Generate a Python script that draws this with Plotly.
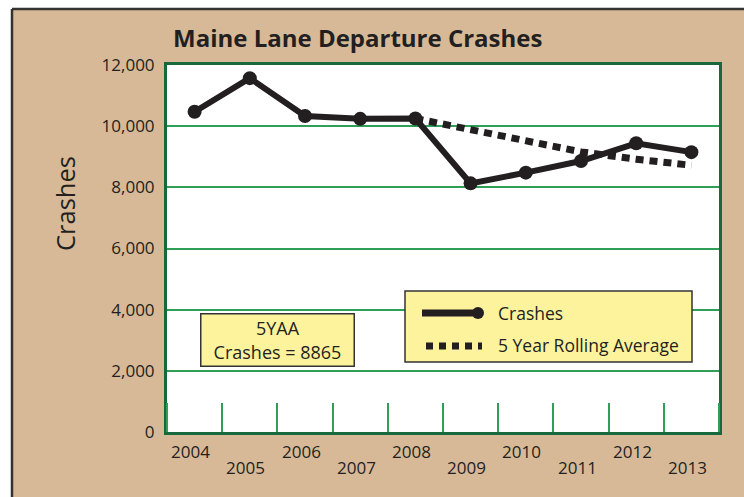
import plotly.graph_objects as go

# ---- data ----
years = [2004, 2005, 2006, 2007, 2008, 2009, 2010, 2011, 2012, 2013]
crashes = [10470, 11570, 10330, 10240, 10250, 8130, 8480, 8860, 9440, 9150]
avg_years = [2008, 2009, 2010, 2011, 2012, 2013]
rolling_avg = [10250, 9880, 9520, 9160, 8920, 8720]
y_ticks = [0, 2000, 4000, 6000, 8000, 10000, 12000]
title_text = "Maine Lane Departure Crashes"
y_title = "Crashes"
box_text = "5YAA<br>Crashes = 8865"
legend_names = ["Crashes", "5 Year Rolling Average"]

# ---- layout constants ----
W, H = 744, 497
L, R, T, B = 167, 719, 65, 432
TAN = "#d7b998"
INK = "#231f20"
GRID = "#2f9e57"
FRAME = "#17683a"
YELLOW = "#fdf39c"
FONT = "Open Sans"


def px(x):
    return (x - L) / (R - L)


def py(y):
    return (B - y) / (B - T)


fig = go.Figure()
fig.add_trace(go.Scatter(
    x=years, y=crashes, mode="lines+markers", name=legend_names[0],
    line=dict(color=INK, width=6), marker=dict(color=INK, size=14),
    showlegend=False))
fig.add_trace(go.Scatter(
    x=avg_years, y=rolling_avg, mode="lines", name=legend_names[1],
    line=dict(color=INK, width=7, dash="8px,6px"), showlegend=False))

shapes = []
# white margin strips + dark frame line
shapes.append(dict(type="rect", xref="paper", yref="paper", x0=px(-5), x1=px(12), y0=py(H + 5), y1=py(-5),
                   fillcolor="white", line=dict(width=0), layer="below"))
shapes.append(dict(type="rect", xref="paper", yref="paper", x0=px(-5), x1=px(W + 5), y0=py(9), y1=py(-5),
                   fillcolor="white", line=dict(width=0), layer="below"))
# tan strip along the right edge
shapes.append(dict(type="rect", xref="paper", yref="paper", x0=px(730), x1=px(W + 10), y0=py(H + 10), y1=py(10),
                   fillcolor=TAN, line=dict(width=0), layer="above"))
shapes.append(dict(type="line", xref="paper", yref="paper", x0=px(12), x1=px(12), y0=py(H + 5), y1=py(9),
                   line=dict(color="#333333", width=2.5)))
shapes.append(dict(type="line", xref="paper", yref="paper", x0=px(12), x1=px(W + 5), y0=py(9), y1=py(9),
                   line=dict(color="#333333", width=2.5)))

# custom legend box
shapes.append(dict(type="rect", xref="paper", yref="paper", x0=px(405), x1=px(692), y0=py(362), y1=py(291),
                   fillcolor=YELLOW, line=dict(color="#333333", width=1.5)))
shapes.append(dict(type="line", xref="paper", yref="paper", x0=px(422), x1=px(477), y0=py(313), y1=py(313),
                   line=dict(color=INK, width=7)))
shapes.append(dict(type="circle", xref="paper", yref="paper", x0=px(472), x1=px(484), y0=py(319), y1=py(307),
                   fillcolor=INK, line=dict(color=INK, width=0)))
shapes.append(dict(type="line", xref="paper", yref="paper", x0=px(426), x1=px(482), y0=py(346), y1=py(346),
                   line=dict(color=INK, width=7, dash="7px,6px")))

annotations = [
    dict(text="<b>" + title_text + "</b>", xref="paper", yref="paper", x=px(357), y=py(38),
         xanchor="center", yanchor="middle", showarrow=False, font=dict(family=FONT, size=24, color=INK)),
    dict(text=y_title, xref="paper", yref="paper", x=px(65), y=py(204), textangle=-90,
         xanchor="center", yanchor="middle", showarrow=False, font=dict(family=FONT, size=25.5, color=INK)),
    dict(text=box_text, xref="paper", yref="paper", x=px(277), y=py(340), xanchor="center", yanchor="middle",
         showarrow=False, bgcolor=YELLOW, bordercolor="#333333", borderwidth=1.5, borderpad=2,
         width=148, height=47, font=dict(family=FONT, size=18, color=INK)),
    dict(text=legend_names[0], xref="paper", yref="paper", x=px(496), y=py(313), xanchor="left",
         yanchor="middle", showarrow=False, font=dict(family=FONT, size=17.5, color=INK)),
    dict(text=legend_names[1], xref="paper", yref="paper", x=px(496), y=py(345), xanchor="left",
         yanchor="middle", showarrow=False, font=dict(family=FONT, size=17.5, color=INK)),
]
# staggered year labels
for i, yr in enumerate(years):
    annotations.append(dict(text=str(yr), xref="x", yref="paper", x=yr, y=py(452 if i % 2 == 0 else 467),
                            xshift=-4, xanchor="center", yanchor="middle", showarrow=False,
                            font=dict(family=FONT, size=17, color=INK)))

fig.update_layout(
    width=W, height=H,
    margin=dict(l=L, r=W - R, t=T, b=H - B, pad=0),
    paper_bgcolor=TAN, plot_bgcolor="white",
    shapes=shapes, annotations=annotations,
    xaxis=dict(range=[years[0] - 0.5, years[-1] + 0.5], showgrid=False, zeroline=False,
               showticklabels=False, ticks="", tickvals=years,
               showline=True, linecolor=FRAME, linewidth=3, mirror=True,
               minor=dict(tick0=years[0] - 0.5, dtick=1, ticks="inside", ticklen=29,
                          tickcolor=GRID, tickwidth=2, showgrid=False)),
    yaxis=dict(range=[y_ticks[0], y_ticks[-1]], tickvals=y_ticks, tickformat=",",
               showgrid=True, gridcolor=GRID, gridwidth=2, zeroline=False,
               showline=True, linecolor=FRAME, linewidth=3, mirror=True,
               ticks="", ticklabelstandoff=6,
               tickfont=dict(family=FONT, size=17, color=INK)),
)

post = ("var s=document.createElement('style');"
        "s.textContent='html,body{margin:0;padding:0;overflow:hidden;height:100%;background:" + TAN + ";}"
        "::-webkit-scrollbar{display:none;width:0;height:0;}';"
        "document.head.appendChild(s);"
        "var d=document.getElementById('{plot_id}');"
        "d.style.position='fixed';d.style.left='0';d.style.top='0';")
fig.write_html("out.html", config={"displayModeBar": False}, post_script=post)
